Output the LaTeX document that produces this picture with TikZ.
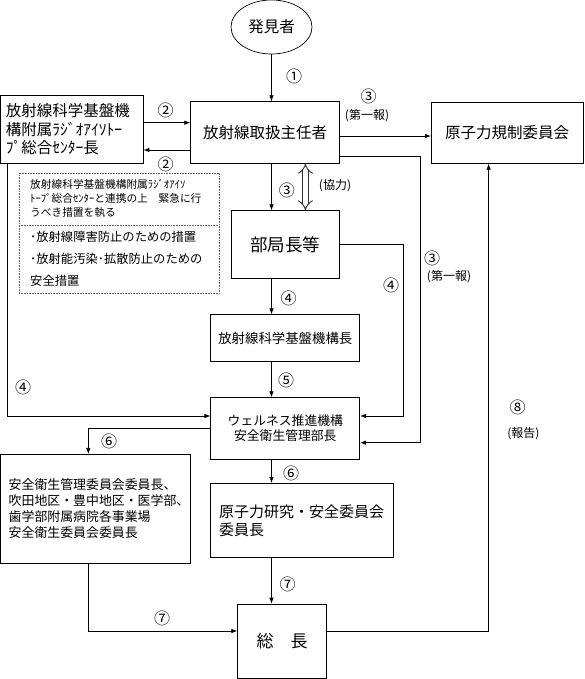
\documentclass[tikz,border=0pt]{standalone}
\usepackage{fontspec}
\setmainfont{Noto Sans CJK JP}
\usetikzlibrary{arrows.meta,shapes.geometric,positioning,calc}

\tikzset{
  box/.style={draw, line width=0.7pt, inner sep=0pt},
  arr/.style={line width=0.7pt, -{Latex[length=6pt,width=4.5pt]}},
  coop/.style={double, double distance=4.5pt, line width=0.9pt, draw=black!80, {Implies[length=6pt,width=12pt]}-{Implies[length=6pt,width=12pt]}},
  num/.style={font=\fontsize{16}{16}\selectfont, inner sep=0pt},
  small/.style={font=\fontsize{12}{14}\selectfont, inner sep=0pt},
  big/.style={font=\fontsize{15.5}{18.5}\selectfont},
}

\begin{document}
\begin{tikzpicture}[x=1pt, y=-1pt]
\useasboundingbox (0, 0) rectangle (584, 679);

% boxes
\node[box, ellipse, minimum width=81pt, minimum height=54pt, big] (finder) at (271.5, 27) {発見者};
\node[box, minimum width=149pt, minimum height=61.6pt, big] (chief) at (265.2, 132.5) {放射線取扱主任者};
\node[box, minimum width=142.3pt, minimum height=67.6pt, big, align=left, text width=132pt] (ricenter) at (71.9, 129.5) {放射線科学基盤機\\構附属ﾗｼﾞｵｱｲｿﾄｰ\\ﾌﾟ総合ｾﾝﾀｰ長};
\node[box, minimum width=151.7pt, minimum height=61pt, big] (nra) at (507.2, 132.8) {原子力規制委員会};
\node[box, minimum width=108.7pt, minimum height=67.6pt, font=\fontsize{17.5}{20}\selectfont] (dept) at (285.4, 244.5) {部局長等};
\node[box, minimum width=149pt, minimum height=46.6pt, font=\fontsize{13.4}{16}\selectfont] (director) at (285.3, 338) {放射線科学基盤機構長};
\node[box, minimum width=149pt, minimum height=61.3pt, align=center, font=\fontsize{12.8}{15}\selectfont] (wellness) at (285.3, 428.3) {ウェルネス推進機構\\安全衛生管理部長};
\node[box, minimum width=190pt, minimum height=109pt, align=left, text width=174pt, font=\fontsize{12.9}{16}\selectfont] (safety) at (95.7, 508.8) {安全衛生管理委員会委員長、\\吹田地区・豊中地区・医学部、\\歯学部附属病院各事業場\\安全衛生委員会委員長};
\node[box, minimum width=182.5pt, minimum height=74.4pt, align=left, text width=166pt, font=\fontsize{15}{18}\selectfont] (nuclear) at (302, 520.5) {原子力研究・安全委員会\\委員長};
\node[box, minimum width=88.7pt, minimum height=74pt, font=\fontsize{17}{20}\selectfont] (president) at (282, 641) {総　長};

% emergency measures
\draw[densely dotted, line width=0.6pt, black!60] (19, 173.3) rectangle (219, 293.3);
\draw[densely dotted, line width=0.6pt, black!60] (19, 225) -- (219, 225);
\node[anchor=north west, align=left, inner sep=0pt, font=\fontsize{10.7}{13.6}\selectfont] (measure) at (30, 179.5) {放射線科学基盤機構附属ﾗｼﾞｵｱｲｿ\\ﾄｰﾌﾟ総合ｾﾝﾀｰと連携の上　緊急に行\\うべき措置を執る};
\node[anchor=north west, align=left, inner sep=0pt, font=\fontsize{12.3}{22}\selectfont] (action) at (30, 230.5) {･放射線障害防止のための措置\\･放射能汚染･拡散防止のための\\安全措置};

% first report
\draw[arr] (finder) -- (finder |- chief.north);
\node[num] (l1) at (294, 76) {①};
\coordinate (r2a) at ([yshift=6.8pt]ricenter.east);
\coordinate (r2b) at ([yshift=-17.5pt]chief.west);
\draw[arr] (r2a) -- (r2a -| chief.west);
\draw[arr] (r2b) -- (r2b -| ricenter.east);
\node[num] (l2a) at (165.7, 110) {②};
\node[num] (l2b) at (165.7, 164) {②};
\coordinate (r3) at ([yshift=-3.2pt]nra.west);
\draw[arr] (r3 -| chief.east) -- (r3);
\node[num] (l3a) at (368.7, 96.7) {③};
\node[small] (l3at) at (367, 115.7) {(第一報)};

% to department
\draw[arr] (chief.south -| finder) -- (dept.north -| finder);
\node[num] (l3b) at (286.8, 190) {③};
\coordinate (coopx) at (305.4, 0);
\draw[coop] (chief.south -| coopx) -- (dept.north -| coopx);
\node[small] (lcoop) at (335, 185.7) {(協力)};
\draw[arr] ([yshift=-23.5pt]chief.east) -- ++(80.3, 0) |- ([yshift=-14.4pt]wellness.east);
\node[num] (l3c) at (432, 258) {③};
\node[small] (l3ct) at (449, 276.7) {(第一報)};

% to wellness
\draw[arr] (dept.east) -- ++(63.7, 0) |- ([yshift=12.3pt]wellness.east);
\node[num] (l4a) at (391, 285.7) {④};
\draw[arr] (dept.south -| finder) -- (director.north -| finder);
\node[num] (l4b) at (288.6, 298) {④};
\draw[arr] (director.south -| finder) -- (wellness.north -| finder);
\node[num] (l5) at (286, 380) {⑤};
\draw[arr] ([xshift=-64.5pt]ricenter.south) |- ([yshift=12.3pt]wellness.west);
\node[num] (l4c) at (23, 387.3) {④};

% committees
\draw[arr] (wellness.west) -| ([xshift=-7.4pt]safety.north);
\node[num] (l6a) at (109, 441) {⑥};
\draw[arr] (wellness.south -| finder) -- (nuclear.north -| finder);
\node[num] (l6b) at (291, 473.3) {⑥};

% president
\draw[arr] (nuclear.south -| finder) -- (president.north -| finder);
\node[num] (l7a) at (287.5, 584) {⑦};
\draw[arr] ([xshift=-7.4pt]safety.south) |- ([yshift=10pt]president.west);
\node[num] (l7b) at (162, 618.3) {⑦};
\draw[arr] ([yshift=10pt]president.east) -| ([xshift=-18.6pt]nra.south);
\node[num] (l8) at (517.7, 407.7) {⑧};
\node[small] (l8t) at (523.3, 433.3) {(報告)};

\end{tikzpicture}
\end{document}
